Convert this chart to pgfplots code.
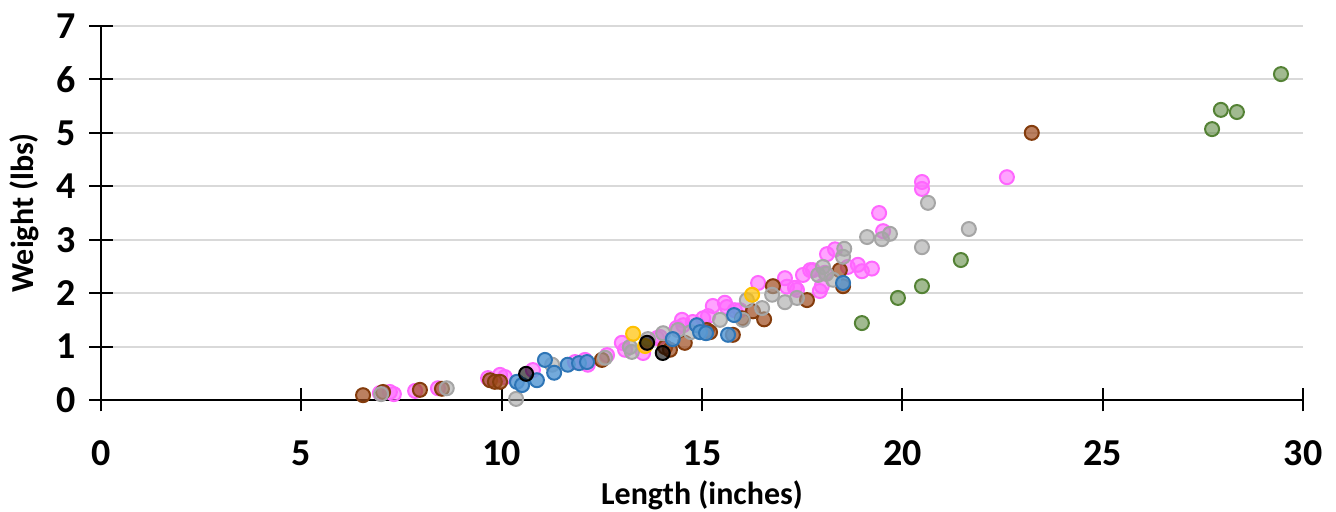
\documentclass[border=0pt]{standalone}
\usepackage{pgfplots}
\pgfplotsset{compat=1.18}
\usepackage{fontspec}
\setmainfont{Carlito}

\definecolor{cpink}{HTML}{FF66FF}
\definecolor{cbrownd}{HTML}{843C0C}
\definecolor{cbrown}{HTML}{9E4A1C}
\definecolor{cgray}{HTML}{A5A5A5}
\definecolor{cblued}{HTML}{2E75B6}
\definecolor{cblue}{HTML}{5B9BD5}
\definecolor{cyel}{HTML}{FFC000}
\definecolor{cgreend}{HTML}{548235}
\definecolor{cgrid}{HTML}{D9D9D9}

\begin{document}
\begin{tikzpicture}
\begin{axis}[
  scale only axis,
  width=601pt, height=187pt,
  xmin=0, xmax=30, ymin=0, ymax=7,
  xtick={0,5,...,30}, ytick={0,1,...,7},
  axis lines=left,
  axis line style={-, black, line width=1pt},
  tick align=center,
  major tick length=11.5pt,
  tick style={black, line width=1pt},
  ymajorgrids,
  grid style={cgrid, line width=1pt},
  clip=false,
  /pgf/number format/assume math mode=true,
  ticklabel style={font=\bfseries\fontsize{19}{22}\selectfont},
  yticklabel style={xshift=-3.5pt},
  xticklabel style={yshift=-11pt},
  xlabel={Length (inches)},
  ylabel={Weight (lbs)},
  label style={font=\bfseries\fontsize{16}{19}\selectfont},
  xlabel style={at={(axis description cs:0.5,-0.28)}, anchor=base},
  ylabel style={at={(axis description cs:-0.064,0.5)}, anchor=center},
  every axis plot/.append style={only marks, mark=*, mark size=3.5pt},
]
% pink
\addplot[mark options={draw=cpink, fill=cpink, fill opacity=0.6, line width=1pt}] coordinates {
(6.96,0.13) (7.21,0.15) (7.31,0.11) (7.84,0.17) (8.41,0.22) (9.66,0.41)
(9.96,0.47) (10.08,0.43) (10.78,0.56) (11.83,0.71) (12.08,0.75) (12.15,0.66)
(12.63,0.84) (13.00,1.07) (13.08,0.94) (13.53,0.88) (13.88,1.16) (13.95,1.18)
(14.37,1.35) (14.50,1.50) (14.53,1.40) (14.77,1.46) (15.03,1.53) (15.15,1.57)
(15.27,1.76) (15.57,1.82) (15.62,1.74) (15.82,1.68) (15.95,1.68) (16.40,2.19)
(17.07,2.28) (17.12,2.12) (17.32,2.10) (17.37,2.06) (17.52,2.34) (17.70,2.43)
(17.77,2.43) (17.94,2.04) (17.99,2.13) (18.07,2.38) (18.12,2.73) (18.32,2.82)
(18.64,2.49) (18.89,2.53) (18.99,2.41) (19.24,2.46) (19.42,3.50) (19.52,3.16)
(20.49,4.08) (20.49,3.95) (22.61,4.17)
};
% brown
\addplot[mark options={draw=cbrownd, fill=cbrown, fill opacity=0.7, line width=1pt}] coordinates {
(6.54,0.09) (7.04,0.15) (7.96,0.19) (8.51,0.21) (9.71,0.37) (9.83,0.34)
(9.96,0.34) (12.50,0.75) (14.08,0.99) (14.20,0.94) (14.57,1.07) (15.12,1.31)
(15.20,1.27) (15.77,1.22) (16.00,1.53) (16.27,1.66) (16.55,1.51) (16.77,2.13)
(17.62,1.87) (18.44,2.43) (18.52,2.13) (23.23,5.00)
};
% gray
\addplot[mark options={draw=cgray, fill=cgray, fill opacity=0.6, line width=1pt}] coordinates {
(6.99,0.11) (8.63,0.22) (10.36,0.02) (11.26,0.66) (12.58,0.79) (13.20,0.99)
(13.25,0.90) (13.65,1.14) (14.03,1.25) (14.40,1.31) (14.72,1.27) (15.45,1.50)
(16.02,1.50) (16.12,1.87) (16.50,1.72) (16.75,1.97) (17.07,1.83) (17.37,1.91)
(17.90,2.34) (18.02,2.49) (18.10,2.36) (18.27,2.25) (18.52,2.68) (18.55,2.83)
(19.12,3.05) (19.49,3.01) (19.69,3.11) (20.49,2.86) (20.64,3.69) (21.66,3.20)
};
% yellow
\addplot[mark options={draw=cyel, fill=cyel, fill opacity=0.7, line width=1pt}] coordinates {
(13.28,1.24) (13.58,1.01) (16.25,1.97)
};
% blue
\addplot[mark options={draw=cblued, fill=cblue, fill opacity=0.85, line width=1pt}] coordinates {
(10.38,0.34) (10.51,0.28) (10.88,0.37) (11.08,0.75) (11.31,0.51) (11.65,0.66)
(11.93,0.69) (12.13,0.71) (14.27,1.14) (14.87,1.40) (14.95,1.27) (15.10,1.25)
(15.65,1.22) (15.80,1.59) (18.52,2.19)
};
% black
\addplot[mark options={draw=black, fill=black, fill opacity=0.6, line width=1pt}] coordinates {
(10.61,0.49) (13.63,1.07) (14.02,0.88)
};
% green
\addplot[mark options={draw=cgreend, fill=cgreend, fill opacity=0.55, line width=1pt}] coordinates {
(18.99,1.44) (19.89,1.91) (20.49,2.13) (21.46,2.62) (27.73,5.07) (27.95,5.43)
(28.35,5.39) (29.45,6.10)
};
\coordinate (sw) at (rel axis cs:0,0);
\coordinate (ne) at (rel axis cs:1,1);
\end{axis}
\pgfresetboundingbox
\useasboundingbox ([shift={(-50.5pt,-56pt)}]sw) rectangle ([shift={(16.5pt,13pt)}]ne);
\end{tikzpicture}
\end{document}
